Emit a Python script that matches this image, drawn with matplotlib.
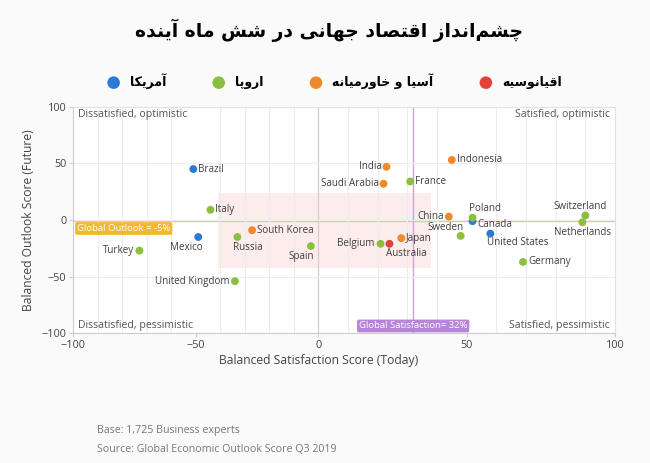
import numpy as np
import matplotlib
matplotlib.use('Agg')
import matplotlib.pyplot as plt
from matplotlib.patches import Rectangle

plt.rcParams['font.family'] = ['Open Sans', 'DejaVu Sans']

# Data
countries = ['Brazil', 'Mexico', 'Canada', 'United States',
             'Italy', 'Russia', 'Turkey', 'Spain', 'United Kingdom', 'Belgium',
             'France', 'Poland', 'Sweden', 'Germany', 'Switzerland', 'Netherlands',
             'South Korea', 'India', 'Saudi Arabia', 'Indonesia', 'China', 'Japan',
             'Australia']
satisfaction = [-51, -49, 52, 58,
                -44, -33, -73, -3, -34, 21,
                31, 52, 48, 69, 90, 89,
                -27, 23, 22, 45, 44, 28,
                24]
outlook = [45, -15, -1, -12,
           9, -15, -27, -23, -54, -21,
           34, 2, -14, -37, 4, -2,
           -9, 47, 32, 53, 3, -16,
           -21]
region = ['am', 'am', 'am', 'am',
          'eu', 'eu', 'eu', 'eu', 'eu', 'eu',
          'eu', 'eu', 'eu', 'eu', 'eu', 'eu',
          'as', 'as', 'as', 'as', 'as', 'as',
          'oc']

region_keys = ['am', 'eu', 'as', 'oc']
region_names = ['آمریکا', 'اروپا', 'آسیا و خاورمیانه', 'اقیانوسیه']
region_colors = ['#2b7bd6', '#8cbf3f', '#ef8a2c', '#e0433a']

global_outlook = -1
global_satisfaction = 32

title = 'چشم\u200cانداز اقتصاد جهانی در شش ماه آینده'

# label offsets in pixels (dx, dy, ha)
label_pos = {
    'Brazil': (5, 0, 'left'), 'Italy': (5, 0, 'left'), 'South Korea': (5, 0, 'left'),
    'Japan': (5, 0, 'left'), 'Indonesia': (5, 0, 'left'), 'France': (5, 0, 'left'),
    'Germany': (5, 0, 'left'),
    'Turkey': (-5, 0, 'right'), 'United Kingdom': (-5, 0, 'right'),
    'Belgium': (-6, 0, 'right'), 'India': (-5, 0, 'right'),
    'Saudi Arabia': (-5, 0, 'right'), 'China': (-5, 0, 'right'),
    'Mexico': (-12, -10, 'center'), 'Russia': (10, -10, 'center'),
    'Spain': (-10, -10, 'center'), 'Australia': (17, -10, 'center'),
    'Poland': (12, 9, 'center'), 'Canada': (5, -3, 'left'),
    'Sweden': (-15, 8, 'center'), 'United States': (-3, -9, 'left'),
    'Switzerland': (-5, 9, 'center'), 'Netherlands': (0, -10, 'center'),
}

# simple Persian shaping for matplotlib (no complex text layout)
FORMS = {
    'ا': ('\uFE8D', '\uFE8E', None, None), 'آ': ('\uFE81', '\uFE82', None, None),
    'پ': ('\uFB56', '\uFB57', '\uFB58', '\uFB59'), 'ت': ('\uFE95', '\uFE96', '\uFE97', '\uFE98'),
    'ج': ('\uFE9D', '\uFE9E', '\uFE9F', '\uFEA0'), 'چ': ('\uFB7A', '\uFB7B', '\uFB7C', '\uFB7D'),
    'خ': ('\uFEA5', '\uFEA6', '\uFEA7', '\uFEA8'), 'د': ('\uFEA9', '\uFEAA', None, None),
    'ر': ('\uFEAD', '\uFEAE', None, None), 'ز': ('\uFEAF', '\uFEB0', None, None),
    'س': ('\uFEB1', '\uFEB2', '\uFEB3', '\uFEB4'), 'ش': ('\uFEB5', '\uFEB6', '\uFEB7', '\uFEB8'),
    'ص': ('\uFEB9', '\uFEBA', '\uFEBB', '\uFEBC'), 'ق': ('\uFED5', '\uFED6', '\uFED7', '\uFED8'),
    'ک': ('\uFB8E', '\uFB8F', '\uFB90', '\uFB91'), 'م': ('\uFEE1', '\uFEE2', '\uFEE3', '\uFEE4'),
    'ن': ('\uFEE5', '\uFEE6', '\uFEE7', '\uFEE8'), 'ه': ('\uFEE9', '\uFEEA', '\uFEEB', '\uFEEC'),
    'و': ('\uFEED', '\uFEEE', None, None), 'ی': ('\uFBFC', '\uFBFD', '\uFBFE', '\uFBFF'),
}


def fa(s):
    out = []
    for i, c in enumerate(s):
        if c not in FORMS:
            if c != '\u200c':
                out.append(c)
            continue
        prev = s[i - 1] if i > 0 else ''
        nxt = s[i + 1] if i + 1 < len(s) else ''
        jp = prev in FORMS and FORMS[prev][2] is not None
        jn = FORMS[c][2] is not None and nxt in FORMS
        iso, fin, ini, med = FORMS[c]
        out.append(med if jp and jn else fin if jp else ini if jn else iso)
    return ''.join(reversed(out))


# negative half of the x axis is drawn narrower than the positive half
def fwd(x):
    x = np.asarray(x, dtype=float)
    return np.where(x < 0, x * 0.825, x)


def inv(x):
    x = np.asarray(x, dtype=float)
    return np.where(x < 0, x / 0.825, x)


fig = plt.figure(figsize=(6.5, 4.63), dpi=100, facecolor='#fafafa')
ax = fig.add_axes([0.1128, 0.2801, 0.8334, 0.4894])
ax.set_facecolor('white')
ax.set_xscale('function', functions=(fwd, inv))
ax.set_xlim(-100, 100)
ax.set_ylim(-100, 100)

# watermark-like pink block
ax.add_patch(Rectangle((-41, -42), 79, 66, facecolor='#fbe4e4', edgecolor='none',
                       alpha=0.7, zorder=0))

ax.set_xticks([-100, -50, 0, 50, 100])
ax.set_xticks(np.arange(-100, 101, 10), minor=True)
ax.set_yticks([-100, -50, 0, 50, 100])
ax.grid(True, which='minor', axis='x', color='#ececec', lw=0.8, zorder=0)
ax.grid(True, which='major', axis='y', color='#ececec', lw=0.8, zorder=0)
ax.tick_params(which='minor', length=0)
ax.tick_params(which='major', length=3, color='#cccccc', labelsize=7.8,
               labelcolor='#444444', pad=2)
for s in ax.spines.values():
    s.set_color('#e2e2e2')
    s.set_linewidth(0.8)
ax.spines['left'].set_color('#cccccc')
ax.spines['bottom'].set_color('#cccccc')
ax.axvline(0, color='#cfcfcf', lw=0.9, zorder=1)

ax.axhline(global_outlook, color='#f6c66c', lw=1, zorder=1)
ax.axvline(global_satisfaction, color='#c9a2e3', lw=1, zorder=1)
ax.text(-98.5, global_outlook - 6.5, 'Global Outlook = -5%', fontsize=6.8, color='white',
        va='center', ha='left', zorder=4,
        bbox=dict(boxstyle='round,pad=0.2', fc='#f4b733', ec='none'))
ax.text(global_satisfaction, -93.5, 'Global Satisfaction= 32%', fontsize=6.8, color='white',
        va='center', ha='center', zorder=4,
        bbox=dict(boxstyle='round,pad=0.2', fc='#b884d8', ec='none'))

qc = '#555555'
ax.text(0.009, 0.965, 'Dissatisfied, optimistic', transform=ax.transAxes, fontsize=7.6,
        color=qc, va='center', ha='left')
ax.text(0.991, 0.965, 'Satisfied, optimistic', transform=ax.transAxes, fontsize=7.6,
        color=qc, va='center', ha='right')
ax.text(0.009, 0.035, 'Dissatisfied, pessimistic', transform=ax.transAxes, fontsize=7.6,
        color=qc, va='center', ha='left')
ax.text(0.991, 0.035, 'Satisfied, pessimistic', transform=ax.transAxes, fontsize=7.6,
        color=qc, va='center', ha='right')

sat = np.array(satisfaction)
out = np.array(outlook)
reg = np.array(region)
for key, name, col in zip(region_keys, region_names, region_colors):
    m = reg == key
    ax.scatter(sat[m], out[m], s=32, color=col, edgecolors='none', zorder=5,
               label=fa(name))

for c, x, y in zip(countries, satisfaction, outlook):
    dx, dy, ha = label_pos[c]
    ax.annotate(c, (x, y), xytext=(dx * 0.72, dy * 0.72), textcoords='offset points',
                ha=ha, va='center', fontsize=7.1, color='#404040', zorder=6)

ax.set_xlabel('Balanced Satisfaction Score (Today)', fontsize=8.7, color='#444444')
ax.xaxis.set_label_coords(0.453, -0.09)
ax.set_ylabel('Balanced Outlook Score (Future)', fontsize=8.7, color='#444444', labelpad=5)

fig.text(0.506, 0.935, fa(title), ha='center', va='center', fontsize=13.5,
         fontweight='bold', family='DejaVu Sans', color='#000000')

handles, labels = ax.get_legend_handles_labels()
leg = fig.legend(handles, labels, loc='center', bbox_to_anchor=(0.51, 0.825), ncol=4,
                 frameon=False, handletextpad=0.3, columnspacing=3.2, markerscale=1.6,
                 prop={'family': 'DejaVu Sans', 'weight': 'bold', 'size': 9})

fig.text(0.149, 0.071, 'Base: 1,725 Business experts', fontsize=7.7, color='#777777',
         va='center')
fig.text(0.149, 0.030, 'Source: Global Economic Outlook Score Q3 2019', fontsize=7.7,
         color='#777777', va='center')

fig.savefig('out.png', dpi=100, facecolor=fig.get_facecolor())
